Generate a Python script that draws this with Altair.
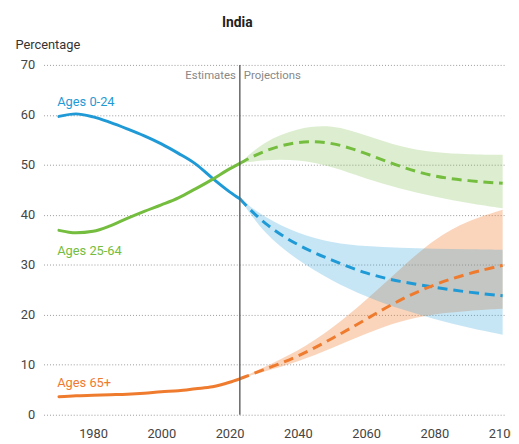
import altair as alt
import pandas as pd

groups = ["Ages 0-24", "Ages 25-64", "Ages 65+"]
colors = ["#1f9ad6", "#74bd3e", "#ef7b2f"]

years_est = [1970, 1975, 1980, 1985, 1990, 1995, 2000, 2005, 2010, 2015, 2020, 2023]
young_est = [59.7, 60.2, 59.6, 58.5, 57.2, 55.8, 54.2, 52.3, 50.2, 47.3, 44.6, 43.2]
adult_est = [36.9, 36.4, 36.7, 37.8, 39.3, 40.7, 42.0, 43.4, 45.2, 47.1, 49.2, 50.3]
old_est = [3.6, 3.8, 3.9, 4.0, 4.1, 4.3, 4.6, 4.8, 5.2, 5.6, 6.5, 7.2]

years_proj = [2023, 2030, 2040, 2050, 2060, 2070, 2080, 2090, 2100]
young_proj = [43.2, 38.2, 33.8, 30.9, 28.2, 26.6, 25.5, 24.5, 23.8]
young_lo = [43.2, 36.3, 30.8, 26.8, 23.6, 21.1, 19.1, 17.4, 16.0]
young_hi = [43.2, 39.6, 36.2, 34.4, 33.7, 33.4, 33.2, 33.1, 33.0]
adult_proj = [50.3, 52.9, 54.8, 54.6, 52.3, 49.6, 47.6, 46.8, 46.3]
adult_lo = [50.3, 51.0, 51.1, 49.7, 47.2, 45.2, 43.6, 42.3, 41.3]
adult_hi = [50.3, 54.7, 57.4, 58.1, 55.9, 53.6, 52.4, 52.1, 52.0]
old_proj = [7.2, 9.0, 11.6, 15.2, 19.1, 23.1, 26.1, 28.3, 29.9]
old_lo = [7.2, 8.6, 10.6, 13.3, 16.3, 18.8, 20.2, 20.8, 21.2]
old_hi = [7.2, 9.5, 12.7, 17.2, 22.9, 29.2, 35.3, 38.9, 41.0]

label_years = [1969.5, 1969.5, 1969.5]
label_values = [62.5, 32.8, 6.4]

split_year = 2023
phase_labels = ["Estimates", "Projections"]
phase_value = 67.7

FONT = "Roboto"

est_rows = []
for g, vals in zip(groups, [young_est, adult_est, old_est]):
    for yr, v in zip(years_est, vals):
        est_rows.append({"year": yr, "value": v, "group": g})
est_df = pd.DataFrame(est_rows)

proj_rows = []
for g, vals, lo, hi in zip(groups, [young_proj, adult_proj, old_proj],
                           [young_lo, adult_lo, old_lo], [young_hi, adult_hi, old_hi]):
    for yr, v, l, h in zip(years_proj, vals, lo, hi):
        proj_rows.append({"year": yr, "value": v, "lo": l, "hi": h, "group": g})
proj_df = pd.DataFrame(proj_rows)

label_df = pd.DataFrame({"year": label_years, "value": label_values, "group": groups})
phase_df = pd.DataFrame({"year": [split_year, split_year], "value": [phase_value, phase_value],
                         "label": phase_labels})

xscale = alt.Scale(domain=[1965.5, 2101], nice=False, zero=False)
yscale = alt.Scale(domain=[0, 70], nice=False)
cscale = alt.Scale(domain=groups, range=colors)

x_enc = alt.X("year:Q", scale=xscale,
              axis=alt.Axis(values=[1980, 2000, 2020, 2040, 2060, 2080, 2100], format="d",
                            title=None, grid=False, domain=False, ticks=False,
                            labelPadding=13, labelFontSize=13, labelColor="#444",
                            labelFont=FONT))
y_enc = alt.Y("value:Q", scale=yscale,
              axis=alt.Axis(values=[0, 10, 20, 30, 40, 50, 60, 70], title="Percentage",
                            titleAngle=0, titleAlign="left", titleBaseline="alphabetic",
                            titleX=-29, titleY=-17, titleFontSize=13, titleFontWeight="normal",
                            titleColor="#333", titleFont=FONT,
                            grid=True, gridDash=[1, 2], gridColor="#999", gridWidth=1,
                            domain=False, ticks=False, labelPadding=9, labelFontSize=13,
                            labelColor="#444", labelFont=FONT))

bands = []
for g in ["Ages 25-64", "Ages 65+", "Ages 0-24"]:
    col = colors[groups.index(g)]
    op = 0.25 if g != "Ages 65+" else 0.32
    bands.append(
        alt.Chart(proj_df[proj_df.group == g]).mark_area(color=col, opacity=op, interpolate="basis")
        .encode(x=alt.X("year:Q", scale=xscale), y=alt.Y("lo:Q", scale=yscale), y2="hi:Q")
    )

est_line = alt.Chart(est_df).mark_line(strokeWidth=3, interpolate="monotone", strokeCap="round").encode(
    x=x_enc, y=y_enc,
    color=alt.Color("group:N", scale=cscale, legend=None),
    detail="group:N",
)

proj_line = alt.Chart(proj_df).mark_line(strokeWidth=3, interpolate="basis",
                                         strokeDash=[10, 6]).encode(
    x=alt.X("year:Q", scale=xscale), y=alt.Y("value:Q", scale=yscale),
    color=alt.Color("group:N", scale=cscale, legend=None),
    detail="group:N",
)

rule = alt.Chart(pd.DataFrame({"year": [split_year]})).mark_rule(color="#666", strokeWidth=1.5).encode(
    x=alt.X("year:Q", scale=xscale), y=alt.value(0), y2=alt.value(354)
)

labels = alt.Chart(label_df).mark_text(align="left", baseline="middle", fontSize=13,
                                       font=FONT).encode(
    x=alt.X("year:Q", scale=xscale), y=alt.Y("value:Q", scale=yscale),
    text="group:N",
    color=alt.Color("group:N", scale=cscale, legend=None),
)

est_text = alt.Chart(phase_df[phase_df.label == "Estimates"]).mark_text(
    align="right", baseline="middle", dx=-4, fontSize=11.5, color="#888", font=FONT).encode(
    x=alt.X("year:Q", scale=xscale), y=alt.Y("value:Q", scale=yscale), text="label:N")
proj_text = alt.Chart(phase_df[phase_df.label == "Projections"]).mark_text(
    align="left", baseline="middle", dx=4, fontSize=11.5, color="#888", font=FONT).encode(
    x=alt.X("year:Q", scale=xscale), y=alt.Y("value:Q", scale=yscale), text="label:N")

chart = alt.layer(*bands, est_line, proj_line, rule, labels, est_text, proj_text).properties(
    width=468, height=354,
    title=alt.TitleParams("India", fontSize=14, fontWeight="bold", font=FONT, color="#222",
                          anchor="middle", dx=-38, offset=8),
    autosize=alt.AutoSizeParams(type="none"),
    padding={"left": 36, "top": 55, "right": 5, "bottom": 25},
).configure_view(stroke=None)

chart.save("out.html", embed_options={"renderer": "svg", "actions": False})
